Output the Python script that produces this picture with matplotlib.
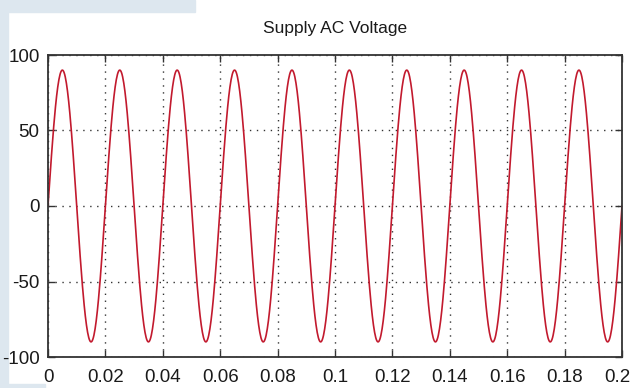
import numpy as np
import matplotlib
matplotlib.use("Agg")
import matplotlib.pyplot as plt
from matplotlib.patches import Rectangle
from matplotlib.ticker import FuncFormatter
from matplotlib.transforms import ScaledTranslation

# --- data ---
title = "Supply AC Voltage"
amplitude = 90.0        # peak voltage
frequency = 50.0        # Hz (10 cycles over 0.2 s)
t_start, t_end = 0.0, 0.2
sample_step = 0.0002
x_ticks = [0, 0.02, 0.04, 0.06, 0.08, 0.1, 0.12, 0.14, 0.16, 0.18, 0.2]
y_ticks = [-100, -50, 0, 50, 100]

t = np.arange(t_start, t_end + sample_step / 2, sample_step)
v = amplitude * np.sin(2 * np.pi * frequency * t)

W, H = 631, 388
fig = plt.figure(figsize=(W / 100, H / 100), dpi=100)
fig.patch.set_facecolor("white")

# slide background bits visible around the figure
bg = "#dde7ef"
fig.add_artist(Rectangle((0, 0), 8 / W, 1, transform=fig.transFigure, color=bg, zorder=0))
fig.add_artist(Rectangle((0, 1 - 12 / H), 195 / W, 12 / H, transform=fig.transFigure, color=bg, zorder=0))
fig.add_artist(Rectangle((0, 0), 45 / W, 4 / H, transform=fig.transFigure, color=bg, zorder=0))

left, right, top, bottom = 48, 622, 55, 357
ax = fig.add_axes([left / W, 1 - bottom / H, (right - left) / W, (bottom - top) / H])

ax.plot(t, v, color="#c21a2e", linewidth=1.2)

ax.set_xlim(t_start, t_end)
ax.set_ylim(-100, 100)
ax.set_xticks(x_ticks)
ax.set_yticks(y_ticks)
ax.xaxis.set_major_formatter(FuncFormatter(lambda x, p: f"{x:g}"))
ax.yaxis.set_major_formatter(FuncFormatter(lambda y, p: f"{y:g}"))

font = "Liberation Sans"
ax.tick_params(direction="in", length=5, width=1.0, top=True, right=True,
               color="#333333", labelsize=13.5, labelcolor="#1a1a1a")
ax.tick_params(axis="y", pad=6)
ax.tick_params(axis="x", pad=9)
for lab in ax.get_xticklabels() + ax.get_yticklabels():
    lab.set_fontfamily(font)

# last x label sits at the right edge of the picture; nudge it inwards a bit
last = ax.get_xticklabels()[-1]
last.set_transform(last.get_transform() + ScaledTranslation(-5 / 100, 0, fig.dpi_scale_trans))

ax.grid(True, color="#333333", linestyle=(0, (1, 4)), linewidth=1.0)
for s in ax.spines.values():
    s.set_color("#333333")
    s.set_linewidth(1.3)

ax.set_title(title, fontfamily=font, fontsize=12.5, color="#1a1a1a", pad=16)

fig.savefig("out.png", dpi=100, facecolor=fig.get_facecolor())
